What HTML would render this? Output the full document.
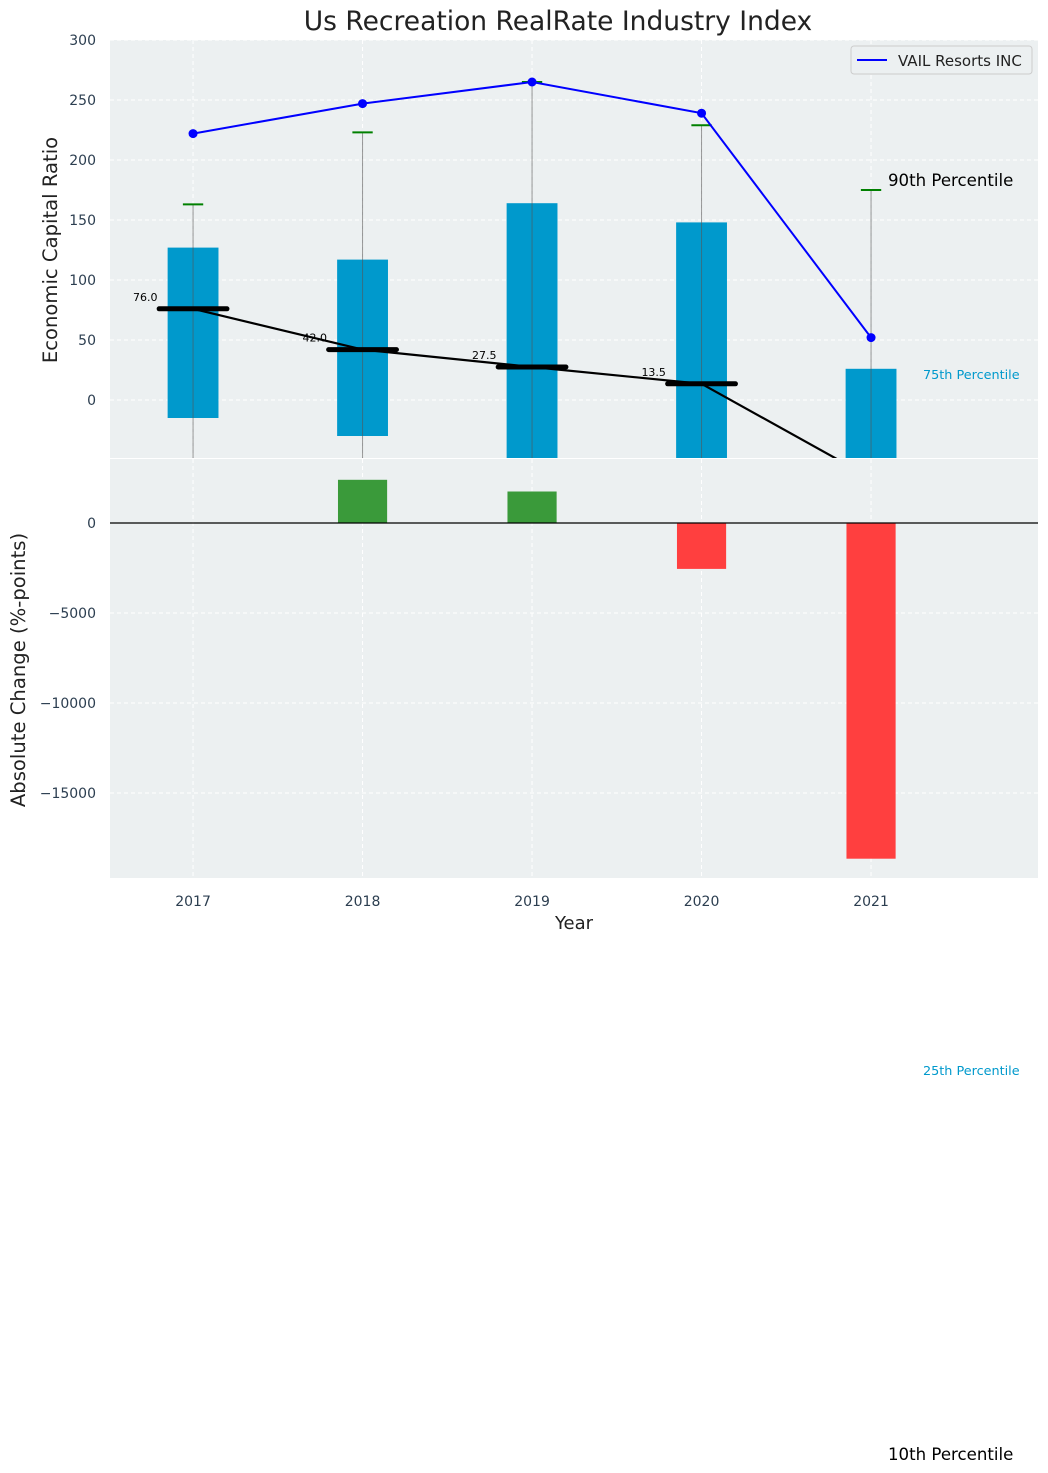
<!DOCTYPE html>
<html><head><meta charset="utf-8">
<style>
body{margin:0;background:#fff;}
svg{display:block;font-family:"DejaVu Sans","Liberation Sans",sans-serif;}
</style></head>
<body>
<svg id="chart" width="1048" height="1473" viewBox="0 0 1048 1473">
<text x="558" y="30" font-size="26.5" text-anchor="middle" fill="#222">Us Recreation RealRate Industry Index</text>
<rect x="110" y="40" width="928" height="418" fill="#ecf0f1"/>
<rect x="110" y="459" width="928" height="419" fill="#ecf0f1"/>
<g id="top"></g>
<g id="bottom"></g>
<text x="57" y="250" font-size="19.6" fill="#222" text-anchor="middle" transform="rotate(-90 57 250)">Economic Capital Ratio</text>
<text x="25" y="670" font-size="19.6" fill="#222" text-anchor="middle" transform="rotate(-90 25 670)">Absolute Change (%-points)</text>
<text x="574" y="929" font-size="18" fill="#222" text-anchor="middle">Year</text>
<g>
<rect x="851" y="46" width="181" height="28" fill="#ecf0f1" stroke="#ccc" rx="3"/>
<line x1="857" y1="60" x2="887" y2="60" stroke="#0000ff" stroke-width="2"/>
<text x="898" y="66" font-size="15" fill="#222">VAIL Resorts INC</text>
</g>
<text x="888" y="186" font-size="16.6" fill="#000">90th Percentile</text>
<text x="923" y="379" font-size="12.8" fill="#0099cc">75th Percentile</text>
<text x="923" y="1075" font-size="12.8" fill="#0099cc">25th Percentile</text>
<text x="888" y="1460" font-size="16.6" fill="#000">10th Percentile</text>
</svg>
<script>
const years = [2017, 2018, 2019, 2020, 2021];
const p90 = [163, 223, 265, 229, 175];
const p75 = [127, 117, 164, 148, 26];
const median = [76, 42, 27.5, 13.5, -65];
const p25 = [-15, -30, -120, -150, -400];
const p10 = [-60, -80, -200, -250, -600];
const vail = [222, 247, 265, 239, 52];
const change = [0, 2400, 1750, -2550, -18650];
const topTicks = [0, 50, 100, 150, 200, 250, 300];
const bottomTicks = [0, -5000, -10000, -15000];

const NS = "http://www.w3.org/2000/svg";
const X0 = 110, X1 = 1038, xMin = 2016.51, xMax = 2021.985;
const xs = v => X0 + (v - xMin) / (xMax - xMin) * (X1 - X0);
const yTop = v => 400 - v * 1.2;
const yBot = v => 523 - v * 0.018;
const topG = document.getElementById('top');
const botG = document.getElementById('bottom');
const svg = document.getElementById('chart');
function mk(tag, attrs, parent) {
  const e = document.createElementNS(NS, tag);
  for (const k in attrs) e.setAttribute(k, attrs[k]);
  parent.appendChild(e);
  return e;
}
const defs = mk('defs', {}, svg);
const c1 = mk('clipPath', {id: 'clipTop'}, defs);
mk('rect', {x: 110, y: 40, width: 928, height: 418}, c1);
topG.setAttribute('clip-path', 'url(#clipTop)');

years.forEach(y => {
  const g1 = mk('line', {x1: xs(y), x2: xs(y), y1: 40, y2: 458, stroke: '#fff', 'stroke-dasharray': '4,3'}, topG);
  
  
  const g2 = mk('line', {x1: xs(y), x2: xs(y), y1: 459, y2: 878, stroke: '#fff', 'stroke-dasharray': '4,3'}, botG);
  
  
  const t = mk('text', {x: xs(y), y: 906, 'font-size': 14, fill: '#2c3e50', 'text-anchor': 'middle'}, svg);
  t.textContent = y;
  
  
});
topTicks.forEach(v => {
  const g = mk('line', {x1: 110, x2: 1038, y1: yTop(v), y2: yTop(v), stroke: '#fff', 'stroke-dasharray': '4,3'}, topG);
  
  
  const t = mk('text', {x: 96, y: yTop(v) + 5, 'font-size': 14, fill: '#2c3e50', 'text-anchor': 'end'}, svg);
  t.textContent = v;
  
  
});
bottomTicks.forEach(v => {
  const g = mk('line', {x1: 110, x2: 1038, y1: yBot(v), y2: yBot(v), stroke: '#fff', 'stroke-dasharray': '4,3'}, botG);
  
  
  const t = mk('text', {x: 96, y: yBot(v) + 5, 'font-size': 14, fill: '#2c3e50', 'text-anchor': 'end'}, svg);
  t.textContent = v === 0 ? '0' : '\u2212' + Math.abs(v);
  
  
});

years.forEach((y, i) => {
  const b = mk('rect', {x: xs(y - 0.15), y: yTop(p75[i]), width: xs(y + 0.15) - xs(y - 0.15), height: yTop(p25[i]) - yTop(p75[i]), fill: '#0099cc'}, topG);
  
  
  const w = mk('line', {x1: xs(y), x2: xs(y), y1: yTop(p90[i]), y2: yTop(p10[i]), stroke: '#555', 'stroke-width': 1, opacity: 0.6}, topG);
  
  
  const c = mk('line', {x1: xs(y - 0.06), x2: xs(y + 0.06), y1: yTop(p90[i]), y2: yTop(p90[i]), stroke: 'green', 'stroke-width': 2}, topG);
  
  
});
const mline = mk('polyline', {points: years.map((y, i) => xs(y) + ',' + yTop(median[i])).join(' '), fill: 'none', stroke: '#000', 'stroke-width': 2.2}, topG);


years.forEach((y, i) => {
  const m = mk('line', {x1: xs(y - 0.2), x2: xs(y + 0.2), y1: yTop(median[i]), y2: yTop(median[i]), stroke: '#000', 'stroke-width': 5, 'stroke-linecap': 'round'}, topG);
  
  
  const t = mk('text', {x: xs(y - 0.21), y: yTop(median[i]) - 8, 'font-size': 11, fill: '#000', 'text-anchor': 'end'}, topG);
  t.textContent = median[i].toFixed(1);
  
  
});
const vl = mk('polyline', {points: years.map((y, i) => xs(y) + ',' + yTop(vail[i])).join(' '), fill: 'none', stroke: '#0000ff', 'stroke-width': 2}, topG);


years.forEach((y, i) => {
  const p = mk('circle', {cx: xs(y), cy: yTop(vail[i]), r: 4.5, fill: '#0000ff'}, topG);
  
  
});

years.forEach((y, i) => {
  if (change[i] === 0) return;
  const top = Math.min(yBot(0), yBot(change[i]));
  const r = mk('rect', {x: xs(y - 0.145), y: top, width: xs(y + 0.145) - xs(y - 0.145), height: Math.abs(yBot(change[i]) - yBot(0)), fill: change[i] > 0 ? '#3a9a3a' : '#ff3f3f'}, botG);
  
  
});
const zl = mk('line', {x1: 110, x2: 1038, y1: yBot(0), y2: yBot(0), stroke: '#000', 'stroke-width': 1.2}, botG);


</script>
</body></html>
